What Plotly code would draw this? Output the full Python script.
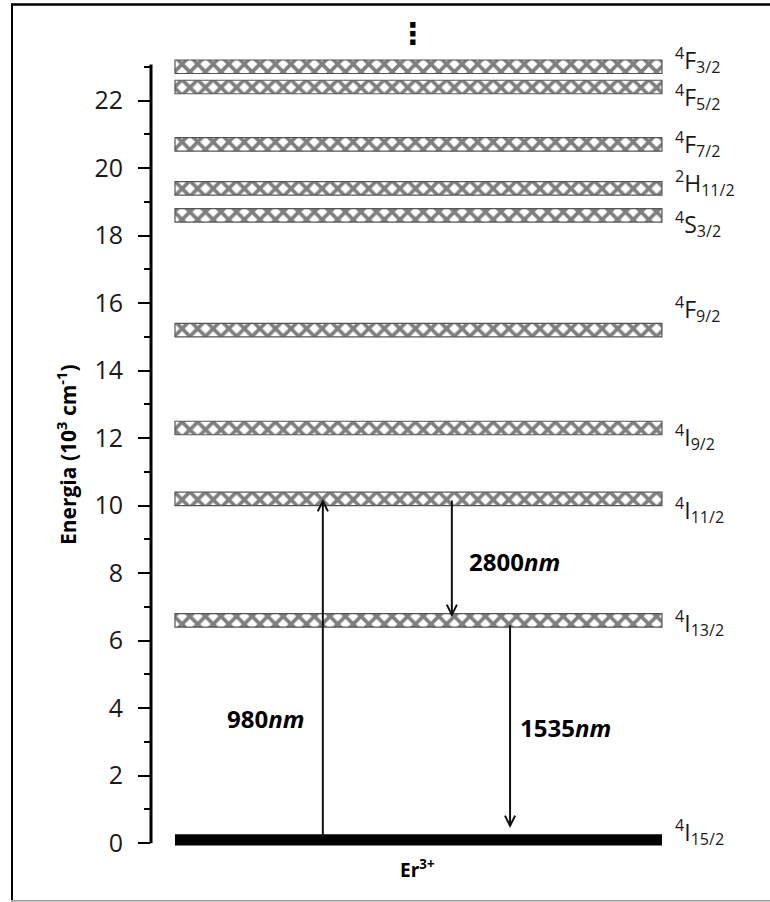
import plotly.graph_objects as go

# ---- data (energies in 10^3 cm^-1) ----
level_names = ["<sup>4</sup>F<sub>3/2</sub>", "<sup>4</sup>F<sub>5/2</sub>", "<sup>4</sup>F<sub>7/2</sub>",
               "<sup>2</sup>H<sub>11/2</sub>", "<sup>4</sup>S<sub>3/2</sub>", "<sup>4</sup>F<sub>9/2</sub>",
               "<sup>4</sup>I<sub>9/2</sub>", "<sup>4</sup>I<sub>11/2</sub>", "<sup>4</sup>I<sub>13/2</sub>"]
level_energy = [23.0, 22.4, 20.7, 19.4, 18.6, 15.2, 12.3, 10.2, 6.6]
ground_name = "<sup>4</sup>I<sub>15/2</sub>"
ground_energy = 0.1

transition_labels = ["980", "2800", "1535"]
transition_from = [0.15, 10.2, 6.5]
transition_to = [10.2, 6.7, 0.45]

ion_label = "Er<sup>3+</sup>"
y_tick_vals = [0, 2, 4, 6, 8, 10, 12, 14, 16, 18, 20, 22]
y_minor_vals = [1, 3, 5, 7, 9, 11, 13, 15, 17, 19, 21, 23]

# ---- layout constants ----
W, H = 770, 902
L, R = 151, 70
Y_MIN, Y_MAX = -1.0, 24.0
PX_PER_UNIT = 33.73
ZERO_PX = 843
T = ZERO_PX - Y_MAX * PX_PER_UNIT
B = H - (ZERO_PX - Y_MIN * PX_PER_UNIT)
band_start, band_len = 4.37, 88.7
arrow_x = [31.3, 54.8, 65.4]
text_pos = [(20.9, 3.7), (66.3, 8.36), (75.5, 3.44)]
label_x = 95.0
label_shift = [7, -10, 0, 5, -9, 21, -9, -11, -3]
ground_shift = 8

FONT = "Open Sans"

fig = go.Figure()
fig.add_trace(go.Bar(
    orientation="h", y=level_energy, x=[band_len] * len(level_energy), base=band_start,
    width=0.4, hoverinfo="skip", showlegend=False,
    marker=dict(color="white",
                pattern=dict(shape="x", fgcolor="#000000", bgcolor="white", size=11, solidity=0.55),
                line=dict(color="#555555", width=1.2)),
))
fig.add_trace(go.Bar(
    orientation="h", y=[ground_energy], x=[band_len], base=band_start,
    width=0.33, hoverinfo="skip", showlegend=False,
    marker=dict(color="black", line=dict(width=0)),
))

ann = []
for name, e, s in zip(level_names, level_energy, label_shift):
    ann.append(dict(x=label_x, y=e, xref="x", yref="y", text=name, showarrow=False,
                    xanchor="left", yanchor="middle", yshift=s,
                    font=dict(family=FONT, size=23, color="#1a1a1a")))
ann.append(dict(x=label_x, y=ground_energy, xref="x", yref="y", text=ground_name, showarrow=False,
                xanchor="left", yanchor="middle", yshift=ground_shift,
                font=dict(family=FONT, size=23, color="#1a1a1a")))

for xa, y0, y1 in zip(arrow_x, transition_from, transition_to):
    ann.append(dict(x=xa, y=y1, ax=xa, ay=y0, xref="x", yref="y", axref="x", ayref="y",
                    text="", showarrow=True, arrowhead=5, arrowsize=1.0, arrowwidth=2,
                    arrowcolor="#111111"))
for lab, (tx, ty) in zip(transition_labels, text_pos):
    ann.append(dict(x=tx, y=ty, xref="x", yref="y", text=f"<b>{lab}<i>nm</i></b>", showarrow=False,
                    xanchor="center", yanchor="middle",
                    font=dict(family=FONT, size=24, color="black")))

ann.append(dict(x=48.6, y=-0.75, xref="x", yref="y", text=f"<b>{ion_label}</b>", showarrow=False,
                xanchor="center", yanchor="middle", font=dict(family=FONT, size=19, color="black")))
ann.append(dict(x=47.7, y=24.0, xref="x", yref="y", text="<b>⋮</b>", showarrow=False,
                xanchor="center", yanchor="middle", font=dict(family="DejaVu Sans", size=30, color="black")))
ann.append(dict(x=0, y=0.5, xref="paper", yref="paper", xshift=-85, text="<b>Energia (10<sup>3</sup> cm<sup>-1</sup>)</b>",
                textangle=-90, showarrow=False, xanchor="center", yanchor="middle",
                font=dict(family=FONT, size=21, color="black")))

pw = W - L - R
ph = H - T - B
def px_to_paper_x(px):
    return (px - L) / pw
def px_to_paper_y(py):
    return (H - B - py) / ph

shapes = [
    dict(type="line", xref="paper", yref="y", x0=0, x1=0, y0=0, y1=23.07,
         line=dict(color="black", width=3)),
    dict(type="line", xref="paper", yref="paper", x0=px_to_paper_x(12), x1=px_to_paper_x(12),
         y0=px_to_paper_y(4), y1=px_to_paper_y(901), line=dict(color="black", width=2)),
    dict(type="line", xref="paper", yref="paper", x0=px_to_paper_x(11), x1=px_to_paper_x(775),
         y0=px_to_paper_y(5), y1=px_to_paper_y(5), line=dict(color="black", width=2.5)),
    dict(type="line", xref="paper", yref="paper", x0=px_to_paper_x(11), x1=px_to_paper_x(775),
         y0=px_to_paper_y(900.5), y1=px_to_paper_y(900.5), line=dict(color="#9a9a9a", width=1.5)),
]

fig.update_layout(
    width=W, height=H, margin=dict(l=L, r=R, t=T, b=B, pad=0),
    paper_bgcolor="white", plot_bgcolor="white",
    showlegend=False, annotations=ann, shapes=shapes,
    xaxis=dict(range=[0, 100], visible=False, fixedrange=True),
    yaxis=dict(range=[Y_MIN, Y_MAX], tickmode="array", tickvals=y_tick_vals,
               ticks="outside", ticklen=12, tickwidth=2, tickcolor="black",
               ticklabelstandoff=10, fixedrange=True,
               showline=False, showgrid=False, zeroline=False,
               tickfont=dict(family=FONT, size=25, color="#1a1a1a"),
               minor=dict(tickmode="array", tickvals=y_minor_vals, ticks="outside", ticklen=6,
                          tickwidth=2, tickcolor="black", showgrid=False)),
)

fig.write_html("out.html", config={"displayModeBar": False},
               post_script="document.body.style.margin='0';document.body.style.padding='0';")
